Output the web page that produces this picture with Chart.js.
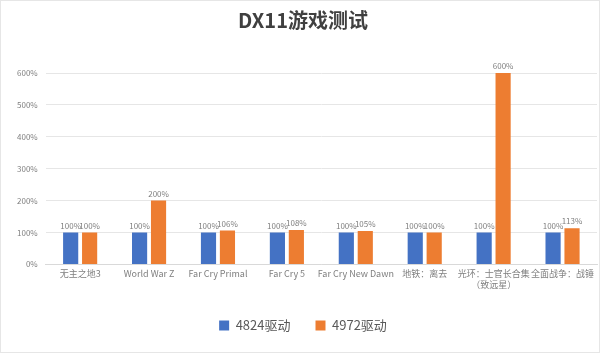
<!DOCTYPE html>
<html>
<head>
<meta charset="utf-8">
<script src="https://cdn.jsdelivr.net/npm/chart.js@4/dist/chart.umd.min.js"></script>
<style>
  html, body { margin: 0; padding: 0; background: #fff; }
  #wrap { width: 598px; height: 351px; border: 1px solid #e6e6e6; }
</style>
</head>
<body>
<div id="wrap"><canvas id="chart" width="598" height="351"></canvas></div>
<script>
// chart data
const games = [
    '无主之地3',
    'World War Z',
    'Far Cry Primal',
    'Far Cry 5',
    'Far Cry New Dawn',
    '地铁：离去',
    ['光环：士官长合集', '（致远星）'],
    '全面战争：战锤'
];
const driver4824 = [100, 100, 100, 100, 100, 100, 100, 100];
const driver4972 = [100, 200, 106, 108, 105, 100, 600, 113];
const yTicks = [0, 100, 200, 300, 400, 500, 600];

const FONT = "'Noto Sans CJK SC', 'Noto Sans', sans-serif";

// draws the value above each bar
const valueLabels = {
    id: 'valueLabels',
    afterDatasetsDraw(chart) {
        const ctx = chart.ctx;
        ctx.save();
        ctx.font = '8px ' + FONT;
        ctx.fillStyle = '#7f7f7f';
        ctx.textAlign = 'center';
        ctx.textBaseline = 'bottom';
        chart.data.datasets.forEach((ds, i) => {
            chart.getDatasetMeta(i).data.forEach((bar, j) => {
                ctx.fillText(ds.data[j] + '%', bar.x, bar.y - 3);
            });
        });
        ctx.restore();
    }
};

new Chart(document.getElementById('chart'), {
    type: 'bar',
    data: {
        labels: games,
        datasets: [
            {
                label: '4824驱动',
                data: driver4824,
                backgroundColor: '#4472C4',
                barPercentage: 0.8,
                categoryPercentage: 0.55
            },
            {
                label: '4972驱动',
                data: driver4972,
                backgroundColor: '#ED7D31',
                barPercentage: 0.8,
                categoryPercentage: 0.55
            }
        ]
    },
    options: {
        responsive: false,
        animation: false,
        layout: { padding: { left: 8, right: 2, top: 0, bottom: 10 } },
        plugins: {
            title: {
                display: true,
                text: 'DX11游戏测试',
                color: '#404040',
                font: { family: FONT, size: 20, weight: 'bold' },
                padding: { top: 7, bottom: 41 }
            },
            legend: {
                position: 'bottom',
                labels: {
                    color: '#595959',
                    font: { family: FONT, size: 13 },
                    boxWidth: 10,
                    boxHeight: 10,
                    padding: 25
                }
            },
            tooltip: { enabled: false }
        },
        scales: {
            x: {
                grid: { display: false, drawTicks: false },
                border: { color: '#d9d9d9' },
                ticks: {
                    color: '#7f7f7f',
                    font: { family: FONT, size: 9 },
                    maxRotation: 0,
                    autoSkip: false,
                    padding: 4
                }
            },
            y: {
                min: 0,
                max: 600,
                afterBuildTicks: (axis) => {
                    axis.ticks = yTicks.map(v => ({ value: v }));
                },
                grid: { color: '#e6e6e6', drawTicks: false },
                border: { display: false },
                ticks: {
                    color: '#7f7f7f',
                    font: { family: FONT, size: 8 },
                    padding: 8,
                    callback: (v) => v + '%'
                }
            }
        }
    },
    plugins: [valueLabels]
});
</script>
</body>
</html>
